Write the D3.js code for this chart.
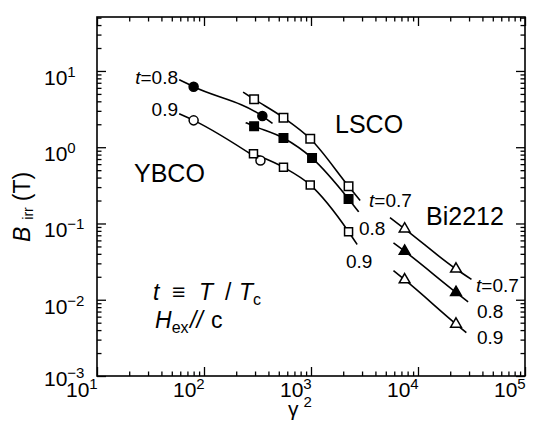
<!DOCTYPE html>
<html>
<head>
<meta charset="utf-8">
<script src="https://cdn.jsdelivr.net/npm/d3@7"></script>
<style>
  body { margin: 0; background: #fff; }
  text { font-family: "Liberation Sans", Arial, sans-serif; fill: #000; }
</style>
</head>
<body>
<svg id="chart"></svg>
<script>
// values: [gamma^2, B_irr (T)]
const ybco08Pts  = [[80, 6.2], [351, 2.56]];
const ybco08Line = [[58.6, 7.67], [80, 6.2], [351, 2.56], [437, 2.05]];
const ybco09Pts  = [[80, 2.25], [337, 0.67]];
const ybco09Line = [[58.6, 2.74], [80, 2.25], [337, 0.67]];

const lsco07Pts  = [[294, 4.26], [553, 2.44], [984, 1.29], [2244, 0.307]];
const lsco07Line = [[232, 5.28], [294, 4.26], [553, 2.44], [984, 1.29], [2244, 0.307], [2880, 0.2]];
const lsco08Pts  = [[294, 1.89], [553, 1.32], [1023, 0.72], [2244, 0.21]];
const lsco08Line = [[245, 2.1], [294, 1.89], [553, 1.32], [1023, 0.72], [2244, 0.21], [2790, 0.142]];
const lsco09Pts  = [[290, 0.82], [553, 0.545], [984, 0.32], [2244, 0.078]];
const lsco09Line = [[262, 0.87], [290, 0.82], [553, 0.545], [984, 0.32], [2244, 0.078], [2700, 0.053]];

const bi07Pts  = [[7500, 0.085], [22650, 0.0253]];
const bi07Line = [[5470, 0.119], [7500, 0.085], [22650, 0.0253], [31600, 0.0185]];
const bi08Pts  = [[7500, 0.0433], [22650, 0.0125]];
const bi08Line = [[5900, 0.0557], [7500, 0.0433], [22650, 0.0125], [29400, 0.0094]];
const bi09Pts  = [[7500, 0.0183], [22650, 0.0048]];
const bi09Line = [[5900, 0.0240], [7500, 0.0183], [22650, 0.0048], [28300, 0.0037]];

const xExponents = [1, 2, 3, 4, 5];
const yExponents = [-3, -2, -1, 0, 1];

const W = 547, H = 432;
const margin = { top: 17, right: 22, bottom: 56, left: 97 };
const width  = W - margin.left - margin.right;
const height = H - margin.top  - margin.bottom;

const svg = d3.select("#chart").attr("width", W).attr("height", H);
const g = svg.append("g").attr("transform", `translate(${margin.left},${margin.top})`);

const x = d3.scaleLog().domain([10, 1e5]).range([0, width]);
const y = d3.scaleLog().domain([1e-3, 51]).range([height, 0]);

// ticks (all pointing inward)
const xMajor = xExponents.map(e => Math.pow(10, e));
const yMajor = yExponents.map(e => Math.pow(10, e));
const xMinor = x.ticks().filter(v => !xMajor.some(m => Math.abs(m - v) < 1e-9 * m));
const yMinor = y.ticks().filter(v => !yMajor.some(m => Math.abs(m - v) < 1e-9 * m));

function ticks(axis, vals, size, tr) {
  g.append("g")
    .attr("transform", tr)
    .call(axis.tickValues(vals).tickSize(size).tickSizeOuter(0).tickFormat(""))
    .call(a => a.select(".domain").remove())
    .selectAll("line").attr("stroke-width", 1.3);
}
ticks(d3.axisBottom(x), xMajor, -9, `translate(0,${height})`);
ticks(d3.axisBottom(x), xMinor, -4.5, `translate(0,${height})`);
ticks(d3.axisTop(x), xMajor, -9, "translate(0,0)");
ticks(d3.axisTop(x), xMinor, -4.5, "translate(0,0)");
ticks(d3.axisLeft(y), yMajor, -9, "translate(0,0)");
ticks(d3.axisLeft(y), yMinor, -4.5, "translate(0,0)");
ticks(d3.axisRight(y), yMajor, -9, `translate(${width},0)`);
ticks(d3.axisRight(y), yMinor, -4.5, `translate(${width},0)`);

g.append("rect")
  .attr("width", width).attr("height", height)
  .attr("fill", "none").attr("stroke", "#000").attr("stroke-width", 1.6);

// tick labels
function powLabel(sel, e) {
  sel.append("tspan").text("10");
  sel.append("tspan").attr("dy", -8).attr("font-size", 15).text(String(e).replace("-", "\u2212"));
}
xExponents.forEach(e => {
  const t = svg.append("text")
    .attr("x", margin.left + x(Math.pow(10, e)) - 31)
    .attr("y", margin.top + height + 21)
    .attr("font-size", 21);
  powLabel(t, e);
});
yExponents.forEach(e => {
  const t = svg.append("text")
    .attr("x", 44)
    .attr("y", margin.top + y(Math.pow(10, e)) + (e === -3 ? 10 : 14))
    .attr("font-size", 21);
  powLabel(t, e);
});

// axis titles
const xt = svg.append("text").attr("x", 288).attr("y", 416).attr("font-size", 21);
xt.append("tspan").text("\u03b3");
xt.append("tspan").attr("dx", 5).attr("dy", -9).attr("font-size", 15).text("2");

const yt = svg.append("text")
  .attr("transform", "translate(30,242) rotate(-90)")
  .attr("font-size", 23);
yt.append("tspan").attr("font-style", "italic").text("B");
yt.append("tspan").attr("dx", 7).attr("dy", 3).attr("font-size", 14).text("irr");
yt.append("tspan").attr("dx", 6).attr("dy", -3).text("(T)");

// series
const series = [
  { line: ybco08Line, pts: ybco08Pts, sym: d3.symbolCircle,   size: 64, fill: "#000" },
  { line: ybco09Line, pts: ybco09Pts, sym: d3.symbolCircle,   size: 64, fill: "#fff" },
  { line: lsco07Line, pts: lsco07Pts, sym: d3.symbolSquare,   size: 72, fill: "#fff" },
  { line: lsco08Line, pts: lsco08Pts, sym: d3.symbolSquare,   size: 72, fill: "#000" },
  { line: lsco09Line, pts: lsco09Pts, sym: d3.symbolSquare,   size: 64, fill: "#fff" },
  { line: bi07Line,   pts: bi07Pts,   sym: d3.symbolTriangle, size: 50, fill: "#fff" },
  { line: bi08Line,   pts: bi08Pts,   sym: d3.symbolTriangle, size: 50, fill: "#000" },
  { line: bi09Line,   pts: bi09Pts,   sym: d3.symbolTriangle, size: 50, fill: "#fff" }
];

const lineGen = d3.line()
  .x(d => x(d[0]))
  .y(d => y(d[1]))
  .curve(d3.curveMonotoneX);

series.forEach(s => {
  g.append("path")
    .datum(s.line)
    .attr("fill", "none")
    .attr("stroke", "#000")
    .attr("stroke-width", 1.6)
    .attr("d", lineGen);
});
series.forEach(s => {
  g.selectAll(null)
    .data(s.pts)
    .enter()
    .append("path")
      .attr("transform", d => `translate(${x(d[0])},${y(d[1])})`)
      .attr("d", d3.symbol().type(s.sym).size(s.size))
      .attr("fill", s.fill)
      .attr("stroke", "#000")
      .attr("stroke-width", 1.5);
});

// annotations
function label(xp, yp, size, parts, anchor) {
  const t = svg.append("text").attr("x", xp).attr("y", yp)
    .attr("font-size", size).attr("text-anchor", anchor || "start");
  parts.forEach(p => {
    const ts = t.append("tspan").text(p[0]);
    if (p[1]) ts.attr("font-style", "italic");
  });
}
label(178, 84, 19, [["t", true], ["=0.8"]], "end");
label(178, 116, 19, [["0.9"]], "end");
label(134, 182, 25, [["YBCO"]]);
label(335, 133, 25, [["LSCO"]]);
label(426, 225, 25, [["Bi2212"]]);
label(369, 207, 19, [["t", true], ["=0.7"]]);
label(359, 235, 19, [["0.8"]]);
label(346, 268, 19, [["0.9"]]);
label(476, 292, 19, [["t", true], ["=0.7"]]);
label(477, 318, 19, [["0.8"]]);
label(477, 344, 19, [["0.9"]]);

const tt = svg.append("text").attr("y", 300).attr("font-size", 23);
tt.append("tspan").attr("x", 153).attr("font-style", "italic").text("t");
tt.append("tspan").attr("x", 172).text("\u2261");
tt.append("tspan").attr("x", 199).attr("font-style", "italic").text("T");
tt.append("tspan").attr("x", 225).text("/");
tt.append("tspan").attr("x", 239).attr("font-style", "italic").text("T");
tt.append("tspan").attr("dy", 5).attr("font-size", 16).text("c");

const ht = svg.append("text").attr("y", 328).attr("font-size", 23);
ht.append("tspan").attr("x", 155).attr("font-style", "italic").text("H");
ht.append("tspan").attr("dy", 5).attr("font-size", 16).text("ex");
ht.append("tspan").attr("x", 190).attr("dy", -5).attr("font-style", "italic").text("//");
ht.append("tspan").attr("x", 211).text("c");
</script>
</body>
</html>
